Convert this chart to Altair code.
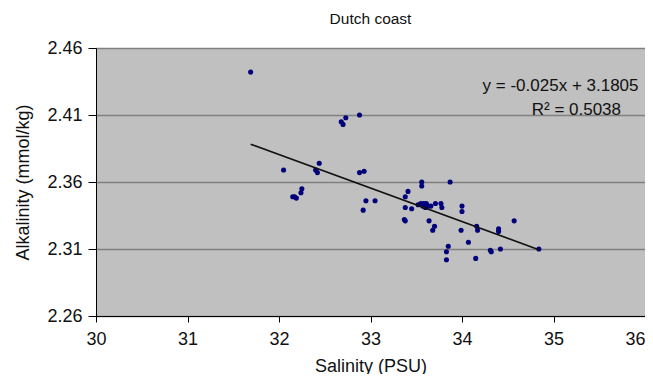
import altair as alt
import pandas as pd

# ---- data ----
salinity = [31.69, 32.05, 32.15, 32.17, 32.19, 32.24, 32.25, 32.40, 32.42, 32.44,
            32.68, 32.70, 32.73, 32.88, 32.88, 32.93, 32.92, 32.95, 33.05, 33.37,
            33.38, 33.38, 33.38, 33.41, 33.45, 33.52, 33.55, 33.56, 33.56, 33.57,
            33.58, 33.60, 33.61, 33.63, 33.64, 33.66, 33.68, 33.70, 33.71, 33.77,
            33.78, 33.83, 33.83, 33.85, 33.87, 33.99, 34.00, 34.00, 34.07, 34.15,
            34.16, 34.17, 34.31, 34.32, 34.40, 34.40, 34.42, 34.57, 34.84]
alkalinity = [2.442, 2.369, 2.349, 2.349, 2.348, 2.352, 2.355, 2.369, 2.367, 2.374,
              2.405, 2.403, 2.408, 2.410, 2.367, 2.368, 2.339, 2.346, 2.346, 2.332,
              2.331, 2.341, 2.349, 2.353, 2.340, 2.343, 2.344, 2.360, 2.357, 2.342,
              2.344, 2.341, 2.344, 2.342, 2.331, 2.342, 2.324, 2.327, 2.344, 2.344,
              2.341, 2.302, 2.308, 2.312, 2.360, 2.324, 2.342, 2.338, 2.315, 2.303,
              2.327, 2.324, 2.309, 2.308, 2.325, 2.323, 2.310, 2.331, 2.310]

x_ticks = [30, 31, 32, 33, 34, 35, 36]
y_ticks = [2.26, 2.31, 2.36, 2.41, 2.46]

slope = -0.025
intercept = 3.1805
labels = ["y = -0.025x + 3.1805", "R\u00b2 = 0.5038"]

title_text = "Dutch coast"
x_title = "Salinity (PSU)"
y_title = "Alkalinity (mmol/kg)"

# ---- tables ----
df = pd.DataFrame({"Salinity": salinity, "Alkalinity": alkalinity})
xmin, xmax = min(salinity), max(salinity)
trend = pd.DataFrame({
    "Salinity": [xmin, xmax],
    "Alkalinity": [slope * xmin + intercept, slope * xmax + intercept],
})

FONT = "Liberation Sans"
TXT = "#111111"

xs = alt.Scale(domain=[30, 36], nice=False, zero=False)
ys = alt.Scale(domain=[2.26, 2.46], nice=False, zero=False)

x_axis = alt.Axis(values=x_ticks, format="d", title=x_title, grid=False,
                  tickSize=6, tickColor="#000000", domainColor="#000000",
                  labelPadding=8, titlePadding=9, labelFontSize=18, titleFontSize=18,
                  labelFont=FONT, titleFont=FONT, labelColor=TXT, titleColor=TXT,
                  titleFontWeight="normal", labelFlush=False,
                  labelAlign=alt.expr("datum.value == 36 ? 'right' : 'center'"))
y_axis = alt.Axis(values=y_ticks, format=".2f", title=y_title, grid=True,
                  gridColor="#808080", gridWidth=1.5,
                  tickSize=8, tickColor="#000000", domainColor="#000000",
                  labelPadding=6, titlePadding=14, labelFontSize=18, titleFontSize=18,
                  labelFont=FONT, titleFont=FONT, labelColor=TXT, titleColor=TXT,
                  titleFontWeight="normal")

x_enc = alt.X("Salinity:Q", scale=xs, axis=x_axis, title=x_title)
y_enc = alt.Y("Alkalinity:Q", scale=ys, axis=y_axis, title=y_title)

points = alt.Chart(df).mark_point(filled=True, shape="circle", size=26,
                                  color="#00007a", opacity=1).encode(x=x_enc, y=y_enc)

line = alt.Chart(trend).mark_line(color="#111111", strokeWidth=1.6).encode(x=x_enc, y=y_enc)

ann = pd.DataFrame({"t": labels, "Salinity": [35.077, 35.25], "Alkalinity": [2.4317, 2.4137]})
text = alt.Chart(ann).mark_text(
    font=FONT, fontSize=17, color=TXT, align="center", baseline="middle").encode(
    x=x_enc, y=y_enc, text="t:N")

chart = alt.layer(points, line, text).properties(
    width=549, height=268,
    title=alt.TitleParams(title_text, font=FONT, fontSize=15.5, fontWeight="normal",
                          color=TXT, anchor="middle", offset=12),
    autosize=alt.AutoSizeParams(type="none"),
    padding={"left": 88, "top": 40, "right": 0, "bottom": 58},
).configure(background="white").configure_view(
    fill="#C0C0C0", stroke="#909090", strokeWidth=1
)

chart.save("out.html", embed_options={"renderer": "svg", "actions": False})
